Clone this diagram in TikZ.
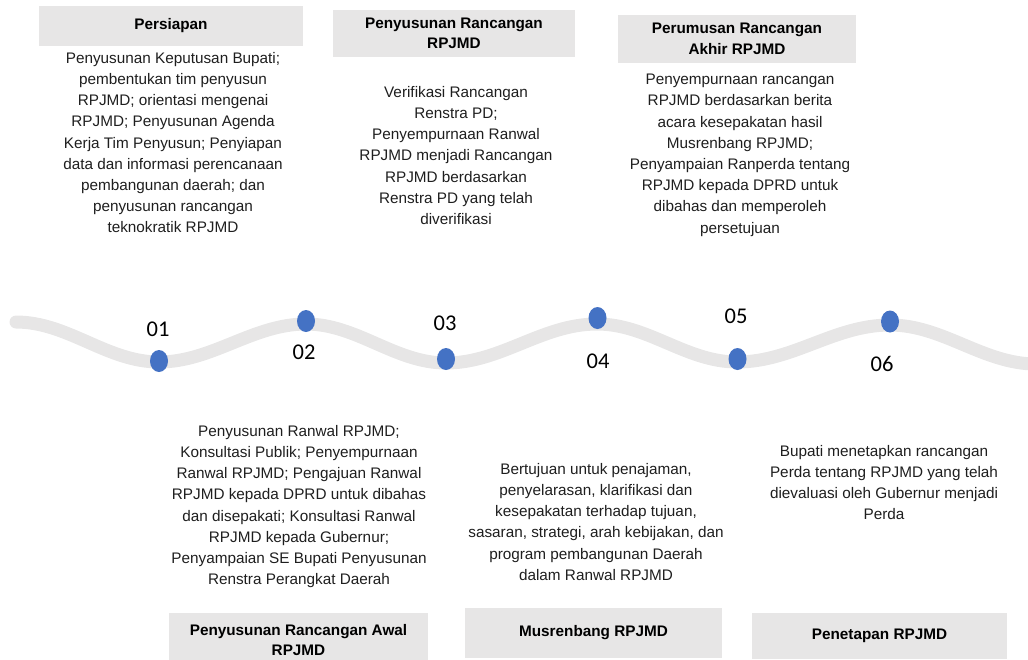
\documentclass[tikz,border=0pt]{standalone}
\usepackage{fontspec}
\setmainfont{Liberation Sans}
\newfontfamily\numfont{Carlito}
\usetikzlibrary{shapes.geometric}
\definecolor{wavegray}{RGB}{231,230,230}
\definecolor{hdrgray}{RGB}{231,230,230}
\definecolor{dotblue}{RGB}{68,114,196}
\definecolor{bodytext}{RGB}{30,30,30}
\begin{document}
\begin{tikzpicture}[x=1pt,y=-1pt,
  hdr/.style={fill=hdrgray, draw=none, inner sep=0pt, align=center,
    font=\bfseries\fontsize{15.3}{20.5}\selectfont},
  body/.style={inner sep=0pt, anchor=north, align=center, text=bodytext,
    font=\fontsize{15.3}{21.2}\selectfont},
  dot/.style={ellipse, fill=dotblue, draw=none, minimum width=18pt, minimum height=22pt, inner sep=0pt},
  num/.style={inner sep=0pt, font=\numfont\fontsize{22.5}{24}\selectfont}]
\useasboundingbox (0,0) rectangle (1028,659);

% wave
\begin{scope}
\clip (0,0) rectangle (1028,659);
\draw[wavegray, line width=13pt, line cap=round]
  (16,322) .. controls (68,322) and (107,362) .. (159,362)
  .. controls (212,362) and (253,324) .. (306,324)
  .. controls (357,324) and (395,363) .. (446,363)
  .. controls (501,363) and (542,324) .. (597,324)
  .. controls (648,324) and (686,362) .. (737,362)
  .. controls (793,362) and (834,325) .. (890,325)
  .. controls (943,325) and (983,364) .. (1036,364);
\end{scope}

% dots
\node[dot] (d1) at (159,361) {};
\node[dot] (d2) at (306,321) {};
\node[dot] (d3) at (446,359) {};
\node[dot] (d4) at (597.5,318) {};
\node[dot] (d5) at (737.5,359) {};
\node[dot] (d6) at (890,321.5) {};

% numbers
\node[num] (n1) at (158,329) {01};
\node[num] (n2) at (304,352) {02};
\node[num] (n3) at (445,323) {03};
\node[num] (n4) at (598,361) {04};
\node[num] (n5) at (736,316) {05};
\node[num] (n6) at (882,364) {06};

% header boxes
\node[hdr, minimum width=264pt, minimum height=40pt] (h1) at (171,26) {Persiapan};
\node[hdr, minimum width=242pt, minimum height=47pt] (h2) at (454,33.5) {Penyusunan Rancangan\\RPJMD};
\node[hdr, minimum width=238pt, minimum height=48pt] (h3) at (737,39) {Perumusan Rancangan\\Akhir RPJMD};
\node[hdr, minimum width=259pt, minimum height=54pt] (h4) at (298.5,640) {Penyusunan Rancangan Awal\\RPJMD};
\node[hdr, minimum width=257pt, minimum height=50pt] (h5) at (593.5,633) {Musrenbang RPJMD};
\node[hdr, minimum width=255pt, minimum height=46pt] (h6) at (879.5,636) {Penetapan RPJMD};

% body texts
\node[body] (b1) at (173,52) {Penyusunan Keputusan Bupati;\\pembentukan tim penyusun\\RPJMD; orientasi mengenai\\RPJMD; Penyusunan Agenda\\Kerja Tim Penyusun; Penyiapan\\data dan informasi perencanaan\\pembangunan daerah; dan\\penyusunan rancangan\\teknokratik RPJMD};
\node[body] (b2) at (456,86) {Verifikasi Rancangan\\Renstra PD;\\Penyempurnaan Ranwal\\RPJMD menjadi Rancangan\\RPJMD berdasarkan\\Renstra PD yang telah\\diverifikasi};
\node[body] (b3) at (740,74) {Penyempurnaan rancangan\\RPJMD berdasarkan berita\\acara kesepakatan hasil\\Musrenbang RPJMD;\\Penyampaian Ranperda tentang\\RPJMD kepada DPRD untuk\\dibahas dan memperoleh\\persetujuan};
\node[body] (b4) at (299,425) {Penyusunan Ranwal RPJMD;\\Konsultasi Publik; Penyempurnaan\\Ranwal RPJMD; Pengajuan Ranwal\\RPJMD kepada DPRD untuk dibahas\\dan disepakati; Konsultasi Ranwal\\RPJMD kepada Gubernur;\\Penyampaian SE Bupati Penyusunan\\Renstra Perangkat Daerah};
\node[body] (b5) at (596,463) {Bertujuan untuk penajaman,\\penyelarasan, klarifikasi dan\\kesepakatan terhadap tujuan,\\sasaran, strategi, arah kebijakan, dan\\program pembangunan Daerah\\dalam Ranwal RPJMD};
\node[body] (b6) at (884,445) {Bupati menetapkan rancangan\\Perda tentang RPJMD yang telah\\dievaluasi oleh Gubernur menjadi\\Perda};
\end{tikzpicture}
\end{document}
